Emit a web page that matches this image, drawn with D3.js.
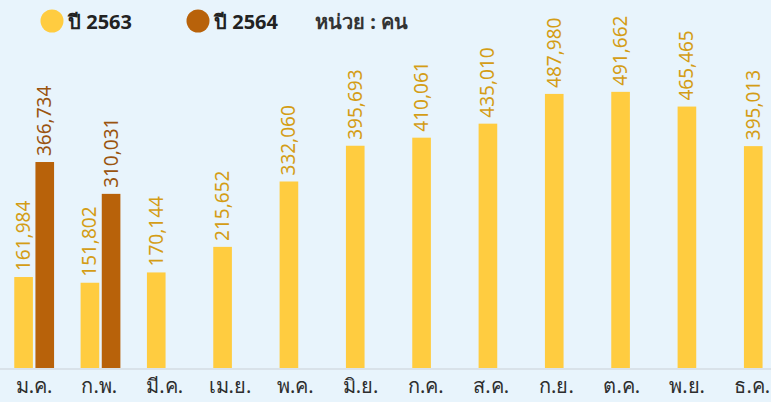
<!DOCTYPE html>
<html>
<head>
<meta charset="utf-8">
<script src="https://cdn.jsdelivr.net/npm/d3@7"></script>
<style>
  body { margin: 0; background: #e8f4fc; overflow: hidden; }
  svg { display: block; }
</style>
</head>
<body>
<script>
let months = ['ม.ค.', 'ก.พ.', 'มี.ค.', 'เม.ย.', 'พ.ค.', 'มิ.ย.', 'ก.ค.', 'ส.ค.', 'ก.ย.', 'ต.ค.', 'พ.ย.', 'ธ.ค.'];
let years = ['2563', '2564'];
let values2563 = [161984, 151802, 170144, 215652, 332060, 395693, 410061, 435010, 487980, 491662, 465465, 395013];
let values2564 = [366734, 310031];
let unitLabel = 'หน่วย : คน';

let width = 771;
let height = 402;
let baseline = 368;

let barColors = { '2563': '#ffcc40', '2564': '#b8620a' };
let textColors = { '2563': '#d49d16', '2564': '#9a5410' };

let data = [];
months.forEach((m, i) => {
  data.push({ month: m, year: '2563', value: values2563[i] });
  if (values2564[i] != null) data.push({ month: m, year: '2564', value: values2564[i] });
});

let svg = d3.select('body').append('svg')
            .attr('width', width)
            .attr('height', height);

svg.append('rect').attr('width', width).attr('height', height).attr('fill', '#e8f4fc');

let x0 = d3.scaleBand()
           .domain(months)
           .range([1, 797])
           .paddingInner(0.4)
           .paddingOuter(0.2);
let x1 = d3.scaleBand()
           .domain(years)
           .range([0, x0.bandwidth()])
           .paddingInner(0.12);
// month labels sit on a slightly tighter spacing than the bars
let xLabel = d3.scaleBand()
               .domain(months)
               .range([1.4, 785]);
let y = d3.scaleLinear()
          .domain([0, 600000])
          .range([baseline, 31]);

// axis line
svg.append('line')
   .attr('x1', 0).attr('x2', width)
   .attr('y1', baseline + 1).attr('y2', baseline + 1)
   .attr('stroke', '#d5dde3').attr('stroke-width', 1.5);

let xAxis = d3.axisBottom(xLabel).tickSize(0).tickPadding(10);
let gx = svg.append('g')
            .attr('transform', 'translate(0,' + (baseline + 1) + ')')
            .call(xAxis);
gx.select('.domain').remove();
gx.selectAll('text')
  .attr('font-family', 'Noto Sans, sans-serif')
  .attr('font-size', 20)
  .attr('fill', '#2e2e2e');

svg.selectAll('rect.bar')
   .data(data)
   .enter()
   .append('rect')
   .attr('class', 'bar')
   .attr('x', (d) => { return x0(d.month) + x1(d.year); })
   .attr('y', (d) => { return y(d.value); })
   .attr('width', x1.bandwidth())
   .attr('height', (d) => { return baseline - y(d.value); })
   .attr('fill', (d) => { return barColors[d.year]; });

svg.selectAll('text.val')
   .data(data)
   .enter()
   .append('text')
   .attr('class', 'val')
   .attr('transform', (d) => {
     let cx = x0(d.month) + x1(d.year) + x1.bandwidth() / 2;
     return 'translate(' + (cx + 6.5) + ',' + (y(d.value) - 6) + ') rotate(-90)';
   })
   .attr('font-family', 'Noto Sans, sans-serif')
   .attr('font-size', 19)
   .attr('fill', (d) => { return textColors[d.year]; })
   .text((d) => { return d3.format(',')(d.value); });

// legend
let legend = svg.append('g').attr('class', 'legend');
let legendX = [52, 198];
years.forEach((yr, i) => {
  legend.append('circle')
        .attr('cx', legendX[i]).attr('cy', 21)
        .attr('r', 11.5)
        .attr('fill', barColors[yr]);
  legend.append('text')
        .attr('x', legendX[i] + 16).attr('y', 29)
        .attr('font-family', 'Noto Sans, sans-serif')
        .attr('font-size', 20)
        .attr('font-weight', 'bold')
        .attr('fill', '#222')
        .text('ปี ' + yr);
});
legend.append('text')
      .attr('x', 315).attr('y', 29)
      .attr('font-family', 'Noto Sans, sans-serif')
      .attr('font-size', 20)
      .attr('font-weight', 'bold')
      .attr('fill', '#333')
      .text(unitLabel);
</script>
</body>
</html>
